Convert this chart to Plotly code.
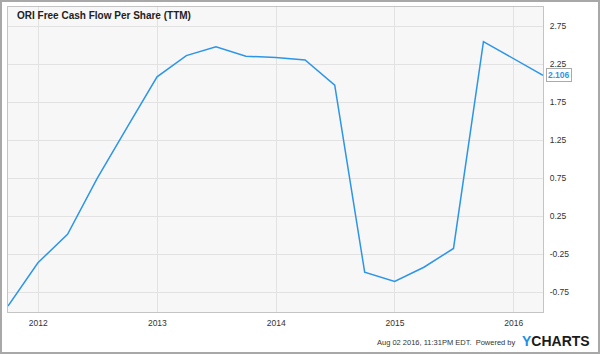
import plotly.graph_objects as go

dates = ["2011-09-30", "2011-12-31", "2012-03-31", "2012-06-30", "2012-09-30",
         "2012-12-31", "2013-03-31", "2013-06-30", "2013-09-30", "2013-12-31",
         "2014-03-31", "2014-06-30", "2014-09-30", "2014-12-31", "2015-03-31",
         "2015-06-30", "2015-09-30", "2015-12-31", "2016-03-31"]
fcf_per_share = [-0.93, -0.36, 0.015, 0.75, 1.42,
                 2.086, 2.366, 2.48, 2.358, 2.339,
                 2.309, 1.976, -0.484, -0.607, -0.419,
                 -0.172, 2.55, 2.33, 2.106]
y_ticks = [2.75, 2.25, 1.75, 1.25, 0.75, 0.25, -0.25, -0.75]
y_tick_labels = ["2.75", "2.25", "1.75", "1.25", "0.75", "0.25", "-0.25", "-0.75"]
x_ticks = ["2012-01-01", "2013-01-01", "2014-01-01", "2015-01-01", "2016-01-01"]
x_tick_labels = ["2012", "2013", "2014", "2015", "2016"]
title_text = "ORI Free Cash Flow Per Share (TTM)"
last_label = "2.106"
footer_text = "Aug 02 2016, 11:31PM EDT.  Powered by"

W, H = 600, 354
ML, MR, MT, MB = 8, 57, 7, 42
PW, PH = W - ML - MR, H - MT - MB

def px(x):
    return (x - ML) / PW

def py(y):
    return (H - MB - y) / PH

FONT = "Liberation Sans, Arial, sans-serif"
BLUE = "#2d95e8"

fig = go.Figure()
fig.add_trace(go.Scatter(x=dates, y=fcf_per_share, mode="lines",
                         line=dict(color=BLUE, width=1.5), hoverinfo="skip"))

fig.update_layout(
    width=W, height=H,
    margin=dict(l=ML, r=MR, t=MT, b=MB, pad=0),
    paper_bgcolor="white", plot_bgcolor="#f7f7f7",
    showlegend=False,
    font=dict(family=FONT, size=8.5, color="#333"),
    xaxis=dict(range=["2011-09-30", "2016-03-31"], tickvals=x_ticks, ticktext=x_tick_labels,
               showgrid=True, gridcolor="#e2e2e2", gridwidth=1, zeroline=False,
               showline=True, linecolor="#c4c4c4", linewidth=1, mirror=True,
               ticks="", ticklabelstandoff=3, tickfont=dict(size=8.5, color="#333")),
    yaxis=dict(range=[-1.008, 3.005], side="right", tickvals=y_ticks, ticktext=y_tick_labels,
               showgrid=True, gridcolor="#e2e2e2", gridwidth=1, zeroline=False,
               showline=True, linecolor="#c4c4c4", linewidth=1, mirror=True,
               ticks="", ticklabelstandoff=4, tickfont=dict(size=8.5, color="#333")),
)

annotations = [
    dict(text="<b>" + title_text + "</b>", xref="paper", yref="paper",
         x=px(15), y=py(16), xanchor="left", yanchor="middle", showarrow=False,
         font=dict(family=FONT, size=10, color="#222")),
    dict(text="<b>" + last_label + "</b>", xref="paper", yref="y",
         x=1, y=fcf_per_share[-1], xanchor="left", yanchor="middle", xshift=3,
         showarrow=False, bgcolor="white", bordercolor="#aaaaaa", borderwidth=1, borderpad=1,
         font=dict(family=FONT, size=8.5, color=BLUE)),
    dict(text=footer_text, xref="paper", yref="paper",
         x=px(518), y=py(342), xanchor="right", yanchor="middle", showarrow=False,
         font=dict(family=FONT, size=7.5, color="#333")),
    dict(text="<b><span style='color:#1f8fe3'>Y</span>CHARTS</b>", xref="paper", yref="paper",
         x=px(592), y=py(341), xanchor="right", yanchor="middle", showarrow=False,
         font=dict(family=FONT, size=14, color="#1a1a1a")),
]
fig.update_layout(annotations=annotations)

fig.add_shape(type="rect", xref="paper", yref="paper",
              x0=px(1), x1=px(W - 1), y0=py(H - 1), y1=py(1),
              line=dict(color="#a8a8a8", width=2), fillcolor="rgba(0,0,0,0)", layer="above")

fig.write_html("out.html")
